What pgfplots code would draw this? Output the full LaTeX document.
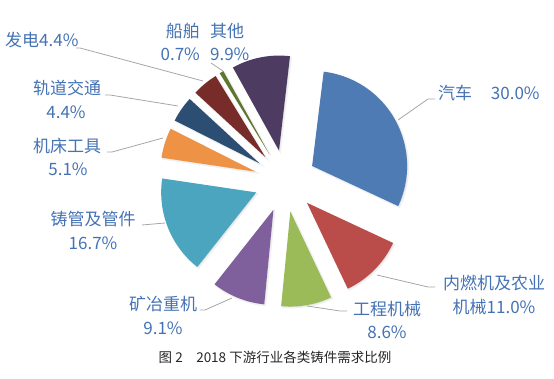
\documentclass[border=0pt]{standalone}
\usepackage{pgfplots}
\usepackage{pgfplotstable}
\pgfplotsset{compat=1.18}
\usepackage{fontspec}
\setmainfont{Liberation Serif}
\newfontfamily\cjk{Noto Sans CJK SC}
\definecolor{c0}{HTML}{4F7BB5}
\definecolor{c1}{HTML}{BA4D4A}
\definecolor{c2}{HTML}{9BBB59}
\definecolor{c3}{HTML}{7F609C}
\definecolor{c4}{HTML}{4BA5BE}
\definecolor{c5}{HTML}{EE9345}
\definecolor{c6}{HTML}{2C4E73}
\definecolor{c7}{HTML}{772C2A}
\definecolor{c8}{HTML}{5F7530}
\definecolor{c9}{HTML}{4D3B62}
\definecolor{lbl}{HTML}{4472B4}
\definecolor{lead}{HTML}{A6A6A6}
\pgfplotstableread{
pct
30.0
11.0
8.6
9.1
16.7
5.1
4.4
4.4
0.7
9.9
}\piedata
\tikzset{lab/.style={font=\cjk\fontsize{17bp}{24bp}\selectfont, text=lbl, align=center, inner sep=0pt}}
\begin{document}
\begin{tikzpicture}
\begin{axis}[hide axis, scale only axis, width=554bp, height=379bp,
  xmin=0, xmax=554, ymin=0, ymax=379, clip=false]
\path (axis cs:0,0) rectangle (axis cs:554,379);
\def\cum{0}
\pgfplotsforeachungrouped \i in {0,...,9}{%
  \pgfplotstablegetelem{\i}{pct}\of\piedata
  \let\p\pgfplotsretval
  \pgfmathsetmacro\ta{7+3.6*\cum}
  \pgfmathsetmacro\tb{7+3.6*(\cum+\p)}
  \pgfmathsetmacro\cum{\cum+\p}
  \pgfmathsetmacro\tm{(\ta+\tb)/2}
  \pgfmathsetmacro\ax{285+31*sin(\tm)}
  \pgfmathsetmacro\ay{198+31*cos(\tm)}
  \pgfmathsetmacro\sx{\ax+1.2}
  \pgfmathsetmacro\sy{\ay-1.2}
  \edef\temp{\noexpand\addplot[fill=black!12, draw=black!6, line width=1.5pt, domain=\ta:\tb, samples=60] ({\sx+95*sin(x)},{\sy+95*cos(x)}) -- (axis cs:\sx,\sy) -- cycle;
  \noexpand\addplot[fill=c\i, draw=none, domain=\ta:\tb, samples=60] ({\ax+95*sin(x)},{\ay+95*cos(x)}) -- (axis cs:\ax,\ay) -- cycle;}
  \temp
}
% leader lines
\addplot[lead, line width=0.8pt] coordinates {(76,331) (80,331) (203,298)};
\addplot[lead, line width=0.8pt] coordinates {(211,316) (223,308)};
\addplot[lead, line width=0.8pt] coordinates {(105,284) (110,284) (178,273)};
\addplot[lead, line width=0.8pt] coordinates {(107,227) (112,227) (163,241)};
\addplot[lead, line width=0.8pt] coordinates {(142,154) (165,156)};
\addplot[lead, line width=0.8pt] coordinates {(200,69) (205,69) (232,81)};
\addplot[lead, line width=0.8pt] coordinates {(307,73) (340,68) (347,68)};
\addplot[lead, line width=0.8pt] coordinates {(377,104) (428,92) (435,92)};
\addplot[lead, line width=0.8pt] coordinates {(398,259) (428,280) (435,280)};
% labels
\node[lab, anchor=west] at (axis cs:5,339) {发电4.4\%};
\node[lab] at (axis cs:205,348) {船舶\hspace{0.6em}其他};
\node[lab] at (axis cs:205,325) {0.7\%\hspace{0.6em}9.9\%};
\node[lab] at (axis cs:67,291) {轨道交通};
\node[lab] at (axis cs:66,267) {4.4\%};
\node[lab] at (axis cs:67,233) {机床工具};
\node[lab] at (axis cs:68,210) {5.1\%};
\node[lab] at (axis cs:93,160) {铸管及管件};
\node[lab] at (axis cs:93,136) {16.7\%};
\node[lab] at (axis cs:163,75) {矿冶重机};
\node[lab] at (axis cs:163,51) {9.1\%};
\node[lab] at (axis cs:387,70) {工程机械};
\node[lab] at (axis cs:387,47) {8.6\%};
\node[lab] at (axis cs:494,96) {内燃机及农业};
\node[lab] at (axis cs:494,72) {机械11.0\%};
\node[lab, anchor=west] at (axis cs:438,286) {汽车\hspace{1.1em}30.0\%};
\node[font=\cjk\fontsize{13.5bp}{16bp}\selectfont, text=black!85, inner sep=0pt] at (axis cs:275,22) {图 2\hspace{1em}2018 下游行业各类铸件需求比例};
\end{axis}
\end{tikzpicture}
\end{document}
